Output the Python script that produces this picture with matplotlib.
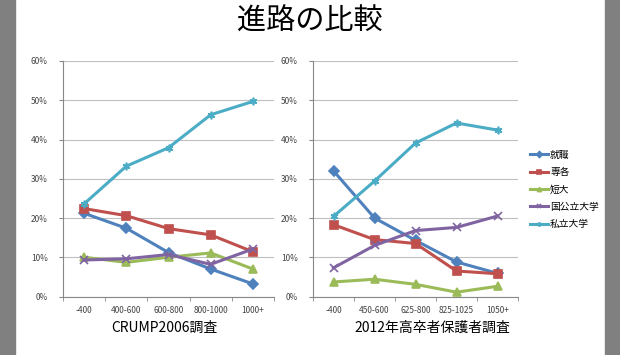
import matplotlib
matplotlib.use("Agg")
import matplotlib.pyplot as plt
from matplotlib.patches import Rectangle

plt.rcParams['font.family'] = ['Noto Sans CJK JP', 'DejaVu Sans']

series = ["就職", "専各", "短大", "国公立大学", "私立大学"]
colors = ["#4F81BD", "#C0504D", "#9BBB59", "#8064A2", "#4BACC6"]
markers = ["D", "s", "^", "x", (6, 2, 0)]

left_cats = ["-400", "400-600", "600-800", "800-1000", "1000+"]
left_vals = [
    [21.2, 17.4, 11.2, 7.0, 3.2],
    [22.4, 20.6, 17.3, 15.7, 11.4],
    [10.0, 8.7, 10.0, 11.1, 7.0],
    [9.3, 9.6, 10.7, 8.2, 12.1],
    [23.6, 33.2, 37.9, 46.3, 49.7],
]

right_cats = ["-400", "450-600", "625-800", "825-1025", "1050+"]
right_vals = [
    [32.0, 20.0, 14.3, 8.8, 5.9],
    [18.3, 14.5, 13.5, 6.5, 5.8],
    [3.7, 4.4, 3.1, 1.1, 2.6],
    [7.3, 13.0, 16.8, 17.6, 20.5],
    [20.4, 29.4, 39.1, 44.2, 42.4],
]

W, H = 620, 355
fig = plt.figure(figsize=(W / 100, H / 100), dpi=100)
fig.patch.set_facecolor("white")

# gray borders of the slide
fig.add_artist(Rectangle((0, 0), 15 / W, 1, transform=fig.transFigure, color="#808080", zorder=0))
fig.add_artist(Rectangle((605 / W, 0), 15 / W, 1, transform=fig.transFigure, color="#808080", zorder=0))

fig.text(310 / W, 1 - 22 / H, "進路の比較", ha="center", va="center", fontsize=21)

tick_gray = "#444444"


def draw(ax, cats, vals):
    x = range(len(cats))
    for i, name in enumerate(series):
        ms = 6 if markers[i] == "s" else 5.5
        ax.plot(x, vals[i], color=colors[i], lw=2.2, marker=markers[i],
                markersize=ms, markeredgecolor=colors[i], markeredgewidth=1.2,
                label=name, zorder=3)
    ax.set_xlim(-0.5, len(cats) - 0.5)
    ax.set_ylim(0, 60)
    ax.set_yticks(range(0, 61, 10))
    ax.set_yticklabels([f"{v}%" for v in range(0, 61, 10)])
    ax.set_xticks(list(x))
    ax.set_xticklabels(cats)
    ax.set_xticks([i - 0.5 for i in range(len(cats) + 1)], minor=True)
    ax.tick_params(axis="x", which="major", length=0, labelsize=6, pad=7, labelcolor=tick_gray)
    ax.tick_params(axis="x", which="minor", length=3, color="#888888")
    ax.tick_params(axis="y", length=3, color="#888888", labelsize=6, pad=8, labelcolor=tick_gray)
    ax.grid(axis="y", color="#BFBFBF", lw=0.8)
    ax.set_axisbelow(True)
    for s in ("top", "right"):
        ax.spines[s].set_visible(False)
    for s in ("left", "bottom"):
        ax.spines[s].set_color("#888888")
        ax.spines[s].set_linewidth(0.8)


ax1 = fig.add_axes([63 / W, 1 - 296.5 / H, (274 - 63) / W, (296.5 - 61) / H])
draw(ax1, left_cats, left_vals)
ax2 = fig.add_axes([313 / W, 1 - 296.5 / H, (518 - 313) / W, (296.5 - 61) / H])
draw(ax2, right_cats, right_vals)

ax2.legend(loc="upper left", bbox_to_anchor=(521 / W, 1 - 141 / H),
           bbox_transform=fig.transFigure, frameon=False, fontsize=7,
           handlelength=1.9, handletextpad=0.2, labelspacing=0.75,
           markerscale=0.55)

fig.text(164 / W, 1 - 328 / H, "CRUMP2006調査", ha="center", va="center", fontsize=10)
fig.text(432 / W, 1 - 328 / H, "2012年高卒者保護者調査", ha="center", va="center", fontsize=10)

fig.savefig("out.png", dpi=100)
